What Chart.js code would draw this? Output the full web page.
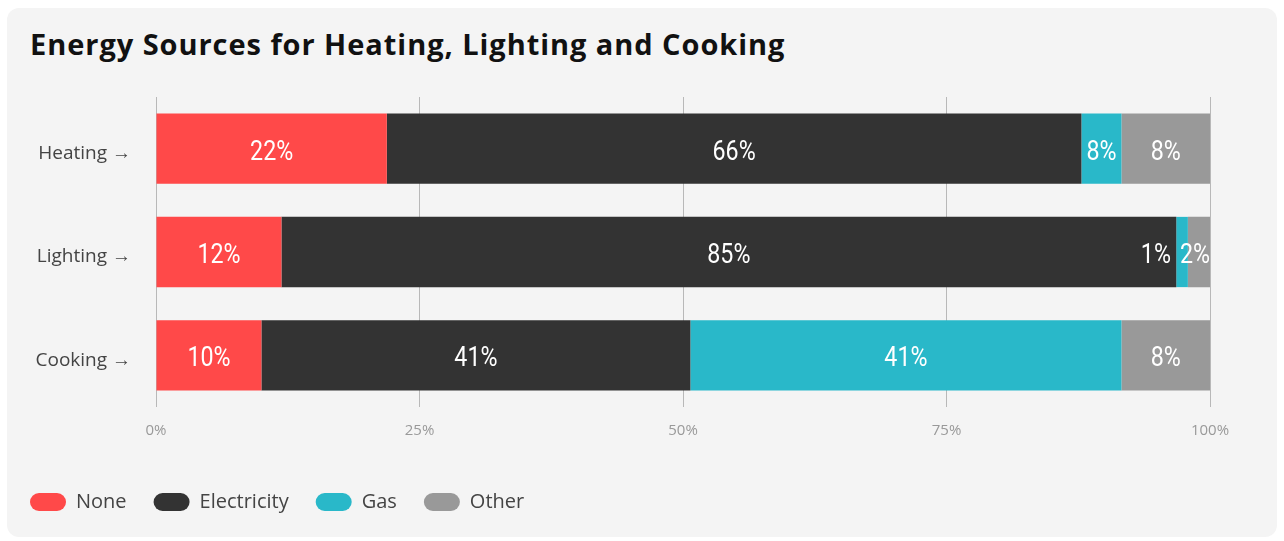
<!DOCTYPE html>
<html>
<head>
<meta charset="utf-8">
<script src="https://cdn.jsdelivr.net/npm/chart.js@4.4.0/dist/chart.umd.min.js"></script>
<style>
  body { margin: 0; background: #fff; width: 1284px; height: 541px; overflow: hidden; }
  #card { position: absolute; left: 7px; top: 8px; width: 1270px; height: 529px; background: #f4f4f4; border-radius: 12px; }
  #title { position: absolute; left: 23px; top: 18px; margin: 0; font: 700 29px 'Open Sans', sans-serif; letter-spacing: 0.95px; line-height: 36px; color: #111; white-space: nowrap; }
  #wrap { position: absolute; left: 0; top: 0; width: 1270px; height: 529px; }
</style>
</head>
<body>
<div id="card">
  <h1 id="title">Energy Sources for Heating, Lighting and Cooking</h1>
  <div id="wrap"><canvas id="energyChart"></canvas></div>
</div>
<script>
// categories and series (bar widths, in %)
const categories = ['Heating \u2192', 'Lighting \u2192', 'Cooking \u2192'];
const noneValues = [21.9, 11.9, 10.0];
const electricityValues = [65.9, 84.9, 40.7];
const gasValues = [3.8, 1.1, 40.9];
const otherValues = [8.4, 2.1, 8.4];

// text printed on the bars
const noneLabels = ['22%', '12%', '10%'];
const electricityLabels = ['66%', '85%', '41%'];
const gasLabels = ['8%', '1%', '41%'];
const otherLabels = ['8%', '2%', '8%'];

const xTicks = [0, 25, 50, 75, 100];

//condensed look for the bar labels
const squeeze = 0.83;

//draws the white labels in the middle of each segment, pushing them left when they collide
const barLabels = {
  id: 'barLabels',
  afterDatasetsDraw(chart) {
    const ctx = chart.ctx;
    const area = chart.chartArea;
    ctx.save();
    ctx.font = '400 28px Roboto, sans-serif';
    ctx.fillStyle = '#fff';
    ctx.textAlign = 'center';
    ctx.textBaseline = 'middle';
    categories.forEach((cat, i) => {
      const items = chart.data.datasets.map((ds, d) => {
        const bar = chart.getDatasetMeta(d).data[i];
        const text = ds.labelText[i];
        return { text: text, x: (bar.x + bar.base) / 2, y: bar.y, w: ctx.measureText(text).width * squeeze };
      });
      for (let k = items.length - 1; k >= 0; k--) {
        const it = items[k];
        const limit = k === items.length - 1 ? area.right : items[k + 1].x - items[k + 1].w / 2 - 9;
        if (it.x + it.w / 2 > limit) it.x = limit - it.w / 2;
      }
      items.forEach(it => {
        ctx.save();
        ctx.translate(it.x, it.y + 4);
        ctx.scale(squeeze, 1);
        ctx.fillText(it.text, 0, 0);
        ctx.restore();
      });
    });
    ctx.restore();
  }
};

function makeSet(label, data, labels, color) {
  return {
    label: label,
    data: data,
    labelText: labels,
    backgroundColor: color,
    borderWidth: 0,
    categoryPercentage: 1,
    barPercentage: 0.68
  };
}

var energyConfig = {
  type: 'bar',
  data: {
    labels: categories,
    datasets: [
      makeSet('None', noneValues, noneLabels, '#ff4949'),
      makeSet('Electricity', electricityValues, electricityLabels, '#333333'),
      makeSet('Gas', gasValues, gasLabels, '#29b8c9'),
      makeSet('Other', otherValues, otherLabels, '#999999')
    ]
  },
  options: {
    indexAxis: 'y',
    responsive: true,
    maintainAspectRatio: false,
    animation: false,
    layout: { padding: { top: 89, right: 67, bottom: 15, left: -4 } },
    scales: {
      x: {
        stacked: true,
        min: 0,
        max: 100,
        afterBuildTicks: scale => { scale.ticks = xTicks.map(v => ({ value: v })); },
        afterFit: scale => { scale.height = 58; },
        ticks: {
          callback: v => v + '%',
          color: '#999',
          font: { family: 'Open Sans', size: 15 },
          padding: 15,
          maxRotation: 0
        },
        grid: { color: '#b8b8b8', drawTicks: false },
        border: { display: false }
      },
      y: {
        stacked: true,
        afterFit: scale => { scale.width = 153; },
        ticks: {
          color: '#444',
          font: { family: 'Open Sans', size: 19 },
          padding: 25,
          labelOffset: 5
        },
        grid: { display: false, drawTicks: false },
        border: { display: false }
      }
    },
    plugins: {
      legend: {
        position: 'bottom',
        align: 'start',
        labels: {
          boxWidth: 36,
          boxHeight: 18,
          useBorderRadius: true,
          borderRadius: 9,
          padding: 27,
          color: '#444',
          font: { family: 'Open Sans', size: 20 }
        }
      },
      tooltip: { enabled: false }
    }
  },
  plugins: [barLabels]
};

window.onload = function() {
  var ctx = document.getElementById('energyChart').getContext('2d');
  window.energyChart = new Chart(ctx, energyConfig);
};
</script>
</body>
</html>
